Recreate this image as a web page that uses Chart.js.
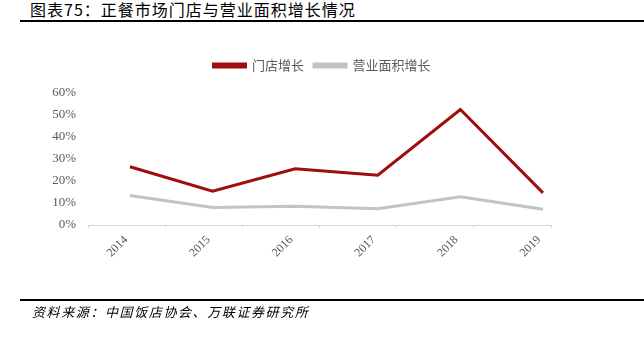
<!DOCTYPE html>
<html>
<head>
<meta charset="utf-8">
<script src="https://cdn.jsdelivr.net/npm/chart.js@4.4.0/dist/chart.umd.min.js"></script>
<style>
  body { margin: 0; width: 644px; height: 342px; background: #fff; position: relative; overflow: hidden; }
  #title { position: absolute; left: 30px; top: -3px; font: 16px "Noto Sans CJK SC"; letter-spacing: 1px; color: #000; white-space: nowrap; }
  .rule { position: absolute; left: 20px; right: 0; height: 2px; background: #000; }
  #source { position: absolute; left: 32px; top: 302px; font: italic 13px "Noto Sans CJK SC"; letter-spacing: 1.6px; color: #000; white-space: nowrap; }
  #wrap { position: absolute; left: 0; top: 0; width: 644px; height: 342px; }
</style>
</head>
<body>
<div id="title">图表75：正餐市场门店与营业面积增长情况</div>
<div class="rule" style="top:20px"></div>
<div id="wrap"><canvas id="myChart" width="644" height="342"></canvas></div>
<div class="rule" style="top:299px"></div>
<div id="source">资料来源：中国饭店协会、万联证券研究所</div>
<script>
// chart values
const years = ["2014", "2015", "2016", "2017", "2018", "2019"]
const storeGrowth = [26.5, 15.4, 25.6, 22.6, 52.5, 14.6]
const areaGrowth = [13.4, 8.0, 8.5, 7.4, 12.8, 7.2]
const yTicks = [0, 10, 20, 30, 40, 50, 60]

const grey = "#595959"

// push the plot down a little below the legend
const legendGap = {
  id: "legendGap",
  beforeInit(chart) {
    const fit = chart.legend.fit
    chart.legend.fit = function () {
      fit.bind(chart.legend)()
      this.height += 11
    }
  }
}

const ctx = document.getElementById("myChart").getContext("2d")
const chart = new Chart(ctx, {
  type: "line",
  data: {
    datasets: [
      {
        label: "门店增长",
        data: storeGrowth.map((v, i) => ({ x: i, y: v })),
        borderColor: "#a00d0d",
        backgroundColor: "#a00d0d",
        borderWidth: 3,
        pointRadius: 0,
        tension: 0,
        xAxisID: "x",
        yAxisID: "y"
      },
      {
        label: "营业面积增长",
        data: areaGrowth.map((v, i) => ({ x: i, y: v })),
        borderColor: "#c3c3c3",
        backgroundColor: "#c3c3c3",
        borderWidth: 3,
        pointRadius: 0,
        tension: 0,
        xAxisID: "x",
        yAxisID: "y"
      }
    ]
  },
  options: {
    responsive: false,
    animation: false,
    layout: { padding: { top: 49, right: 0, bottom: 74, left: 0 } },
    plugins: {
      tooltip: { enabled: false },
      legend: {
        position: "top",
        labels: {
          boxWidth: 32,
          boxHeight: 3,
          padding: 10,
          color: grey,
          font: { family: "Noto Sans CJK SC", size: 13 }
        }
      }
    },
    scales: {
      xt: {
        type: "linear",
        position: "bottom",
        weight: 0,
        min: 0,
        max: 6,
        ticks: { display: false, stepSize: 1 },
        grid: { drawOnChartArea: false, color: "#d9d9d9", tickLength: 3 },
        border: { color: "#d9d9d9", width: 1 }
      },
      x: {
        type: "linear",
        position: "bottom",
        weight: 1,
        min: -0.508,
        max: 5.097,
        afterBuildTicks: (scale) => { scale.ticks = years.map((_, i) => ({ value: i })) },
        afterFit: (scale) => { scale.height = 40 },
        ticks: {
          autoSkip: false,
          minRotation: 45,
          maxRotation: 45,
          padding: 5,
          labelOffset: -4,
          color: grey,
          font: { family: "Liberation Serif", size: 12 },
          callback: (v) => years[v]
        },
        grid: { display: false, drawTicks: false },
        border: { display: false }
      },
      y: {
        min: 0,
        max: 60,
        afterBuildTicks: (scale) => { scale.ticks = yTicks.map(v => ({ value: v })) },
        afterFit: (scale) => { scale.width = 88 },
        ticks: {
          padding: 12,
          color: grey,
          font: { family: "Liberation Serif", size: 13 },
          callback: (v) => v + "%"
        },
        grid: { display: false, drawTicks: false },
        border: { display: false }
      },
      // empty right margin so the legend stays centred on the whole width
      yr: {
        position: "right",
        afterFit: (scale) => { scale.width = 93 },
        ticks: { display: false },
        grid: { display: false, drawTicks: false },
        border: { display: false }
      }
    }
  },
  plugins: [legendGap]
})
</script>
</body>
</html>
